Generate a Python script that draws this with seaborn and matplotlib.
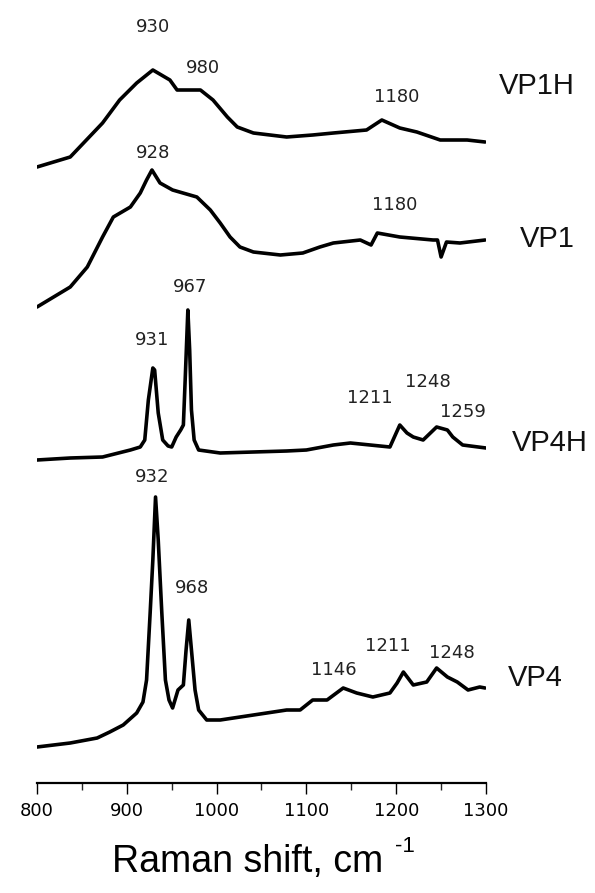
import matplotlib
matplotlib.use("Agg")
import pandas as pd
import matplotlib.pyplot as plt
import seaborn as sns

# -----------------------------
# Spectra (Raman shift in cm-1, intensity in a.u., already stacked)
# -----------------------------
shift_vp1h = [800, 837, 873, 892, 911, 929, 948, 956, 982, 996, 1012, 1023, 1041,
              1078, 1107, 1130, 1167, 1184, 1204, 1223, 1249, 1279, 1299]
int_vp1h = [616, 626, 660, 683, 700, 713, 703, 693, 693, 683, 666, 656, 650,
            646, 648, 650, 653, 663, 655, 651, 643, 643, 641]

shift_vp1 = [800, 837, 856, 873, 885, 904, 915, 922, 928, 937, 951, 978, 993, 1004,
             1015, 1026, 1041, 1071, 1096, 1115, 1130, 1160, 1172, 1179, 1204, 1241,
             1246, 1250, 1256, 1271, 1299]
int_vp1 = [476, 496, 516, 546, 566, 576, 590, 603, 613, 600, 593, 586, 573, 560,
           546, 536, 531, 528, 530, 536, 540, 543, 538, 550, 546, 543,
           543, 526, 541, 540, 543]

shift_vp4h = [800, 837, 873, 904, 915, 920, 924, 929, 931, 935, 940, 946, 950, 955,
              960, 963, 965, 968, 970, 972, 975, 980, 1004, 1041, 1078, 1100, 1130,
              1149, 1193, 1204, 1212, 1219, 1230, 1245, 1257, 1263, 1274, 1300]
int_vp4h = [323, 325, 326, 333, 336, 343, 383, 415, 413, 370, 343, 337, 336, 346,
            353, 358, 403, 473, 433, 373, 343, 333, 330, 331, 332, 333, 338,
            340, 336, 358, 350, 346, 343, 356, 353, 346, 338, 335]

shift_vp4 = [800, 837, 867, 881, 896, 911, 918, 922, 926, 929, 932, 935, 939, 943,
             947, 951, 957, 963, 966, 969, 972, 976, 980, 989, 1004, 1041, 1078, 1093,
             1107, 1123, 1141, 1156, 1174, 1193, 1201, 1208, 1219, 1234, 1245, 1257,
             1268, 1280, 1293, 1299]
int_vp4 = [36, 40, 45, 51, 58, 70, 81, 103, 170, 223, 286, 243, 170, 103,
           83, 75, 93, 98, 133, 163, 133, 93, 73, 63, 63, 68, 73, 73,
           83, 83, 95, 90, 86, 90, 100, 111, 98, 101, 115, 106,
           101, 93, 96, 95]

sample_names = ["VP1H", "VP1", "VP4H", "VP4"]

# peak labels: text, shift, height
peak_labels = ["930", "980", "1180", "928", "1180", "967", "931", "1211", "1248",
               "1259", "932", "968", "1146", "1211", "1248"]
peak_x = [929, 985, 1200, 929, 1198, 971, 928, 1171, 1235, 1274, 928, 973, 1130, 1191, 1262]
peak_y = [756, 715, 686, 630, 578, 496, 443, 385, 401, 371, 306, 195, 113, 137, 130]

# sample name positions
name_x = [1357, 1368, 1371, 1355]
name_y = [697, 544, 340, 105]

frames = []
for name, xs, ys in zip(sample_names,
                        [shift_vp1h, shift_vp1, shift_vp4h, shift_vp4],
                        [int_vp1h, int_vp1, int_vp4h, int_vp4]):
    frames.append(pd.DataFrame({"shift": xs, "intensity": ys, "sample": name}))
spectra = pd.concat(frames, ignore_index=True)

sns.set_theme(style="white")
plt.rcParams['font.family'] = ['DejaVu Sans']

fig = plt.figure(figsize=(5.95, 8.93), dpi=100)
ax = fig.add_axes([37 / 595, 110 / 893, 449 / 595, 783 / 893])

for name in sample_names:
    d = spectra[spectra["sample"] == name]
    sns.lineplot(data=d, x="shift", y="intensity", ax=ax, color="black",
                 lw=2.6, sort=False, estimator=None)

ax.set_xlim(800, 1300)
ax.set_ylim(0, 783)
for s in ["left", "top", "right"]:
    ax.spines[s].set_visible(False)
ax.spines["bottom"].set_color("black")
ax.spines["bottom"].set_linewidth(1.6)
ax.set_yticks([])
ax.set_xticks(range(800, 1301, 100))
ax.set_xticks(range(850, 1300, 100), minor=True)
ax.tick_params(axis="x", which="major", direction="out", length=8, width=1,
               bottom=True, labelsize=13, pad=6, colors="black")
ax.tick_params(axis="x", which="minor", direction="out", length=5, width=1,
               bottom=True)
ax.set_xlabel("")
ax.set_ylabel("")

for t, x, y in zip(peak_labels, peak_x, peak_y):
    ax.text(x, y, t, ha="center", va="center", fontsize=13, color="#222222")

for t, x, y in zip(sample_names, name_x, name_y):
    ax.text(x, y, t, ha="center", va="center", fontsize=21,
            family="Liberation Sans", color="#111111", clip_on=False)

fig.text(248 / 595, 1 - 862 / 893, "Raman shift, cm", ha="center", va="center",
         fontsize=27, family="Liberation Sans", color="black")
fig.text(405 / 595, 1 - 846 / 893, "-1", ha="center", va="center",
         fontsize=16, family="Liberation Sans", color="black")

fig.savefig("out.png", dpi=100)
plt.close()
